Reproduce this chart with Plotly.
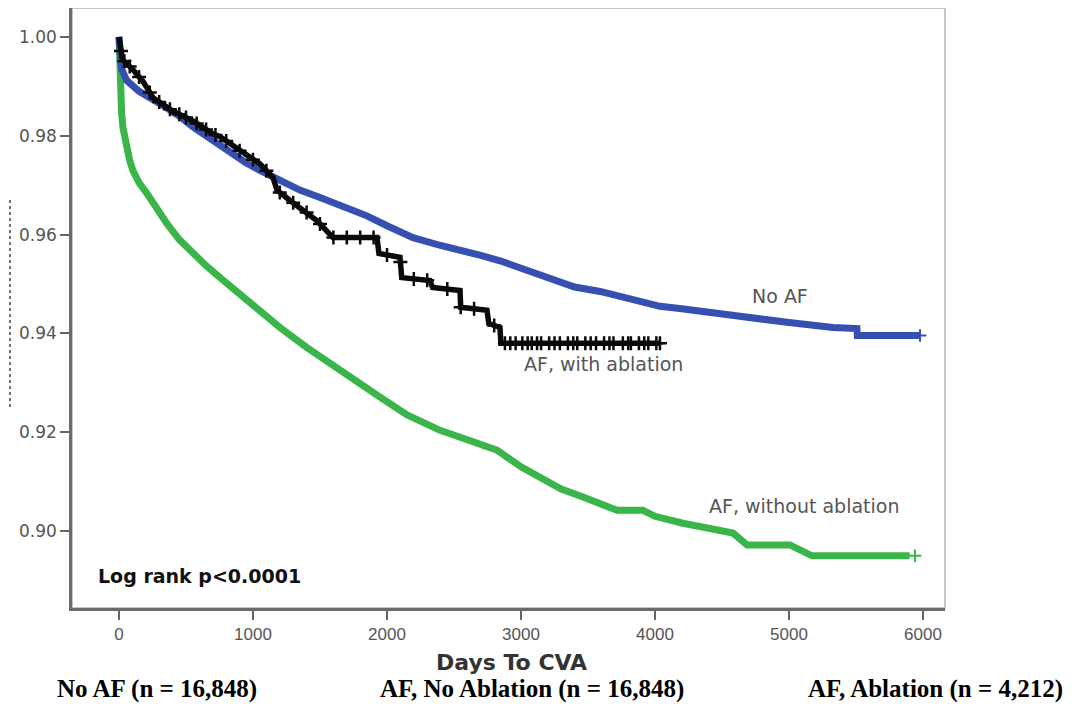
import numpy as np
import plotly.graph_objects as go

# ---- data ----
no_af_days = [0, 5, 20, 57, 150, 306, 450, 552, 700, 806, 950, 1052, 1200, 1350, 1500, 1700, 1850,
              2000, 2194, 2400, 2600, 2700, 2843, 3000, 3200, 3400, 3590, 3800, 4037, 4200, 4400,
              4709, 5000, 5328, 5507, 5510, 5978]
no_af_surv = [1.0, 0.996, 0.9935, 0.9912, 0.989, 0.9865, 0.984, 0.9818, 0.979, 0.977, 0.9745, 0.973,
              0.971, 0.969, 0.9675, 0.9655, 0.9638, 0.9618, 0.9594, 0.9578, 0.9567, 0.9558, 0.9547,
              0.9533, 0.9512, 0.9494, 0.9485, 0.947, 0.9455, 0.945, 0.9443, 0.943, 0.9422, 0.9412,
              0.941, 0.9396, 0.9396]

abl_days = [0, 10, 25, 100, 179, 254, 400, 552, 700, 754, 828, 950, 1052, 1150, 1179, 1276, 1400,
            1478, 1597, 1925, 1940, 2097, 2110, 2321, 2340, 2545, 2550, 2746, 2760, 2843, 2850, 4037]
abl_surv = [1.0, 0.998, 0.9955, 0.9935, 0.991, 0.9877, 0.985, 0.983, 0.9804, 0.9798, 0.9784, 0.976,
            0.9743, 0.9715, 0.969, 0.9669, 0.9645, 0.9628, 0.9594, 0.9594, 0.9562, 0.9554, 0.9513,
            0.9507, 0.9493, 0.9487, 0.9453, 0.9447, 0.942, 0.9412, 0.938, 0.938]
abl_censor_days = [15, 40, 80, 150, 230, 300, 380, 450, 500, 580, 650, 720, 800, 900, 1000, 1100,
                   1200, 1300, 1400, 1500, 1600, 1700, 1800, 1900, 2000, 2100, 2200, 2300, 2450,
                   2550, 2650, 2800, 2880, 2920, 2960, 3010, 3050, 3080, 3120, 3150, 3210, 3250, 3290,
                   3350, 3390, 3420, 3480, 3520, 3560, 3620, 3660, 3690, 3760, 3800, 3820, 3880,
                   3920, 3950, 4010, 4037]

noabl_days = [0, 3, 10, 20, 30, 45, 60, 80, 105, 150, 209, 280, 358, 450, 552, 650, 754, 860, 978,
              1090, 1201, 1400, 1575, 1750, 1948, 2150, 2396, 2600, 2821, 3000, 3142, 3300, 3463,
              3716, 3910, 4000, 4209, 4463, 4582, 4687, 5007, 5172, 5900]
noabl_surv = [1.0, 0.995, 0.990, 0.9845, 0.9816, 0.979, 0.977, 0.975, 0.9729, 0.9705, 0.9683,
              0.9652, 0.9622, 0.959, 0.9562, 0.9537, 0.9513, 0.9488, 0.9461, 0.9436, 0.9412, 0.9372,
              0.9339, 0.9305, 0.9271, 0.9235, 0.9204, 0.9185, 0.9164, 0.913, 0.9109, 0.9085, 0.9069,
              0.9042, 0.9042, 0.903, 0.9016, 0.9002, 0.8996, 0.8972, 0.8972, 0.895, 0.895]

x_ticks = [0, 1000, 2000, 3000, 4000, 5000, 6000]
y_ticks = [0.90, 0.92, 0.94, 0.96, 0.98, 1.00]
y_ticklabels = ["0.90", "0.92", "0.94", "0.96", "0.98", "1.00"]

curve_labels = ["No AF", "AF, with ablation", "AF, without ablation"]
caption_labels = ["No AF (n = 16,848)", "AF, No Ablation (n = 16,848)", "AF, Ablation (n = 4,212)"]

BLUE = "#3550b0"
GREEN = "#3ab54a"
BLACK = "#0a0a0a"

# layout geometry (pixels). The page body adds an 8px offset, so the figure is
# sized 8px smaller and all window positions are shifted by 8px.
OFF = 8
W, H = 1090 - OFF, 704 - OFF
L, R, T, B = 72 - OFF, 145, 0, 96
PW, PH = W - L - R, H - T - B


def px(xw):
    return (xw - OFF - L) / PW


def py(yw):
    return (H - B - (yw - OFF)) / PH


fig = go.Figure()

fig.add_trace(go.Scatter(x=noabl_days, y=noabl_surv, mode="lines",
                         line=dict(color=GREEN, width=7), name=curve_labels[2]))
fig.add_trace(go.Scatter(x=[noabl_days[-1] + 40], y=[noabl_surv[-1]], mode="markers",
                         marker=dict(symbol="cross-thin", size=9, line=dict(color=GREEN, width=2))))
fig.add_trace(go.Scatter(x=no_af_days, y=no_af_surv, mode="lines",
                         line=dict(color=BLUE, width=7), name=curve_labels[0]))
fig.add_trace(go.Scatter(x=[no_af_days[-1]], y=[no_af_surv[-1]], mode="markers",
                         marker=dict(symbol="cross-thin", size=9, line=dict(color=BLUE, width=2))))
fig.add_trace(go.Scatter(x=abl_days, y=abl_surv, mode="lines",
                         line=dict(color=BLACK, width=5.5), name=curve_labels[1]))
cen_y = np.interp(abl_censor_days, abl_days, abl_surv)
fig.add_trace(go.Scatter(x=abl_censor_days, y=cen_y, mode="markers",
                         marker=dict(symbol="cross-thin", size=10, line=dict(color=BLACK, width=2.5))))

ann_font = dict(family="DejaVu Sans, Arial", size=19, color="#555555")
fig.add_annotation(x=4933, y=0.9475, text=curve_labels[0], showarrow=False, font=ann_font)
fig.add_annotation(x=3612, y=0.9339, text=curve_labels[1], showarrow=False, font=ann_font)
fig.add_annotation(x=5119, y=0.9050, text=curve_labels[2], showarrow=False, font=ann_font)

fig.add_annotation(xref="paper", yref="paper", x=px(96), y=py(576), xanchor="left", yanchor="middle",
                   text="<b>Log rank p<0.0001</b>", showarrow=False,
                   font=dict(family="DejaVu Sans, Arial", size=19, color="#111111"))

fig.add_annotation(xref="paper", yref="paper", x=px(511), y=py(662), xanchor="center", yanchor="middle",
                   text="<b>Days To CVA</b>", showarrow=False,
                   font=dict(family="DejaVu Sans, Arial", size=22, color="#333333"))

cap_font = dict(family="Liberation Serif, Times New Roman, serif", size=25, color="#000000")
for cx, lab in zip([157, 532, 935], caption_labels):
    fig.add_annotation(xref="paper", yref="paper", x=px(cx), y=py(689), xanchor="center",
                       yanchor="middle", text="<b>" + lab + "</b>", showarrow=False, font=cap_font)

# plot frame (light) and left dashed artifact
fig.add_shape(type="rect", xref="paper", yref="paper", x0=0, x1=1, y0=0, y1=1,
              line=dict(color="#b5b5b5", width=1.5), layer="below")
fig.add_shape(type="line", xref="paper", yref="paper", x0=px(10), x1=px(10), y0=py(200), y1=py(410),
              line=dict(color="#444444", width=1.5, dash="dot"))

fig.update_xaxes(range=[-350.7, 6164.2], tickvals=x_ticks, ticks="outside", ticklen=9, tickwidth=2,
                 tickcolor="#666666", showline=True, linecolor="#6b6b6b", linewidth=2.5,
                 showgrid=False, zeroline=False,
                 tickfont=dict(family="Liberation Sans Narrow, Arial Narrow, Liberation Sans", size=17,
                               color="#555555"))
fig.update_yaxes(range=[0.884444, 1.005859], tickvals=y_ticks, ticktext=y_ticklabels, ticks="outside",
                 ticklen=9, tickwidth=2, tickcolor="#666666", showline=True, linecolor="#6b6b6b",
                 linewidth=2.5, showgrid=False, zeroline=False,
                 tickfont=dict(family="DejaVu Sans, Arial", size=17, color="#555555"))

fig.update_layout(width=W, height=H, margin=dict(l=L, r=R, t=T, b=B), showlegend=False,
                  plot_bgcolor="white", paper_bgcolor="white")

fig.write_html("out.html")
